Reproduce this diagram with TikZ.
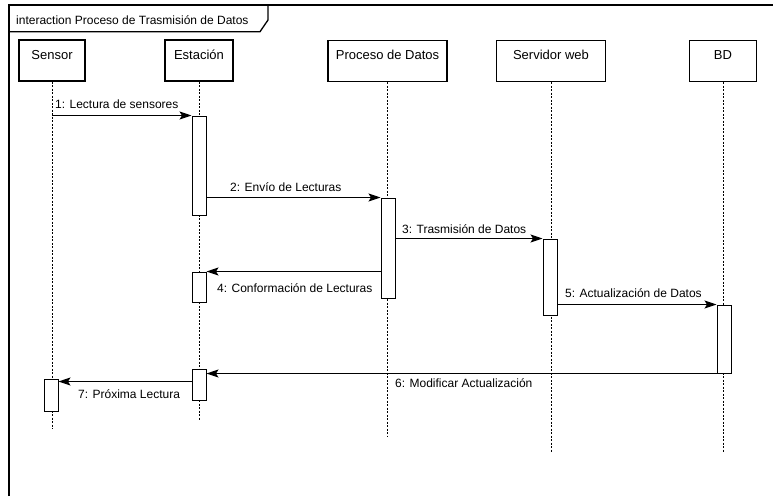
\documentclass[tikz,border=0pt]{standalone}
\usepackage{fontspec}
\setmainfont{Liberation Sans}
\usetikzlibrary{arrows.meta, positioning, calc}
\usepackage{xcolor}

\begin{document}
\begin{tikzpicture}[
  x=1pt, y=-1pt,
  actor/.style={draw, line width=1.2pt, minimum height=41pt, inner sep=0pt, text height=9pt, text depth=12pt, font=\fontsize{13}{15}\selectfont},
  act/.style={draw, line width=1pt, fill=white, minimum width=14pt, inner sep=0pt},
  lifeline/.style={line width=1pt, dash pattern=on 2pt off 1.5pt},
  msg/.style={-{Stealth[length=12pt, width=8pt, inset=2.5pt]}, line width=1pt},
  msglabel/.style={anchor=base west, inner sep=0pt, font=\fontsize{12}{14}\selectfont},
  frame/.style={line width=1.3pt}
]
\useasboundingbox (0,0) rectangle (773,496);

% Frame and title tab
\draw[frame] (9,496) -- (9,5) -- (773,5);
\draw[frame] (9,31.7) -- (260,31.7) -- (268,20) -- (268,5);
\node[msglabel] (title) at (16,24) {interaction Proceso de Trasmisión de Datos};

% Lifeline heads
\node[actor, minimum width=66pt] (sen) at (52,60.5) {Sensor};
\node[actor, minimum width=68pt] (est) at (199,60.5) {Estación};
\node[actor, minimum width=119pt] (pro) at (387.5,61) {Proceso de Datos};
\node[actor, minimum width=109pt] (ser) at (551,61) {Servidor web};
\node[actor, minimum width=67pt] (bd) at (723,61) {BD};

% Lifeline dashed lines
\foreach \x/\e in {sen/429,est/421,pro/437,ser/452,bd/452}{\draw[lifeline] (\x.south) -- (\x.south |- 0,\e);}

% Activations
\node[act, minimum height=99pt] (est1) at (199,165.5) {};
\node[act, minimum height=100pt] (pro1) at (388,248) {};
\node[act, minimum height=76pt] (ser1) at (550,277) {};
\node[act, minimum height=30pt] (est2) at (199,287) {};
\node[act, minimum height=68pt] (bd1) at (724,339) {};
\node[act, minimum height=31pt] (est3) at (199,384.5) {};
\node[act, minimum height=32pt] (sen1) at (51,395) {};
\coordinate (m7) at ([yshift=-3pt]sen1.north east);

% Messages
\draw[msg] (sen.south |- est1.north west) -- (est1.north west);
\draw[msg] (est1.east |- pro1.north) -- (pro1.north west);
\draw[msg] (pro1.east |- ser1.north) -- (ser1.north west);
\draw[msg] (pro1.west |- est2.north) -- (est2.north east);
\draw[msg] (ser1.east |- bd1.north) -- (bd1.north west);
\draw[msg] (bd1.south west) -- (est3.east |- bd1.south);
\draw[msg] (est3.west |- m7) -- (m7);

% Message labels
\node[msglabel] (l1) at (55,108) {1: Lectura de sensores};
\node[msglabel] (l2) at (230,191) {2: Envío de Lecturas};
\node[msglabel] (l3) at (402,233) {3: Trasmisión de Datos};
\node[msglabel] (l4) at (217,292) {4: Conformación de Lecturas};
\node[msglabel] (l5) at (565,297) {5: Actualización de Datos};
\node[msglabel] (l6) at (395,387) {6: Modificar Actualización};
\node[msglabel] (l7) at (78,398) {7: Próxima Lectura};
\end{tikzpicture}
\end{document}
